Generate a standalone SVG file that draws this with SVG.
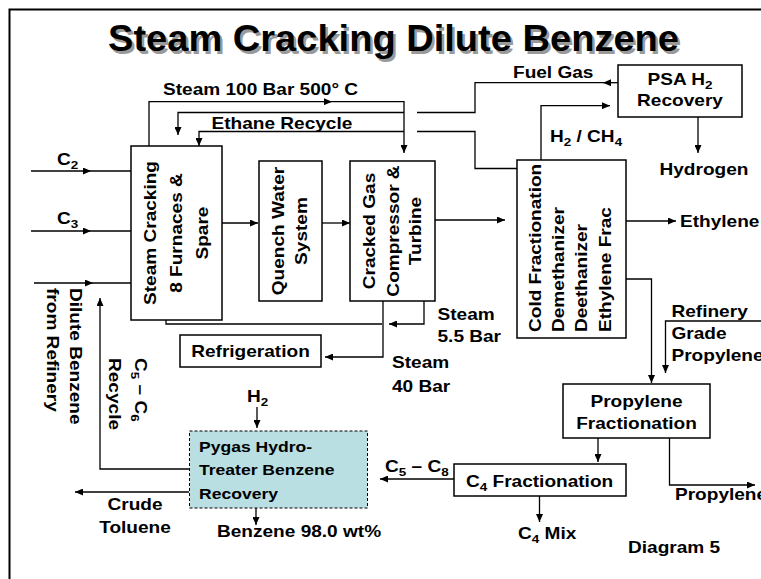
<svg xmlns="http://www.w3.org/2000/svg" width="761" height="579" viewBox="0 0 761 579">
<defs>
<marker id="a" viewBox="0 0 8 7" refX="8" refY="3.5" markerWidth="8" markerHeight="7" markerUnits="userSpaceOnUse" orient="auto"><path d="M0,0 L8,3.5 L0,7 z" fill="#000"/></marker>
<style>
.t{font-family:"Liberation Sans",Arial,sans-serif;font-weight:bold;font-size:16.3px;fill:#000}
.p{font-size:15px}
.m{text-anchor:middle}
.s{font-size:11.5px}
.box{fill:#fff;stroke:#000;stroke-width:1.5}
.ln{fill:none;stroke:#000;stroke-width:1.3}
.ar{marker-end:url(#a)}
.title{font-family:"Liberation Sans",Arial,sans-serif;font-weight:bold;font-size:36px}
</style>
</defs>
<rect width="761" height="579" fill="#fff"/>
<path d="M9.5,579 V9.5 H761" fill="none" stroke="#000" stroke-width="2"/>
<g id="title">
<text class="title" x="110.5" y="53.5" textLength="571" lengthAdjust="spacingAndGlyphs" fill="#9a9a9a">Steam Cracking Dilute Benzene</text>
<text class="title" x="108" y="51" textLength="571" lengthAdjust="spacingAndGlyphs" fill="#000">Steam Cracking Dilute Benzene</text>
</g>
<g id="connectors">
<path class="ln ar" d="M31,171 H91"/><path class="ln" d="M91,171 H131"/>
<path class="ln ar" d="M31,231 H91"/><path class="ln" d="M91,231 H131"/>
<path class="ln ar" d="M34,283 H93"/><path class="ln" d="M93,283 H131"/>
<path class="ln ar" d="M149,146 V101.7 H332"/><path class="ln ar" d="M332,101.7 H404 V153"/>
<path class="ln ar" d="M618,82.7 H603"/><path class="ln" d="M603,82.7 H475 V112.5 H417"/><path class="ln ar" d="M404,112.5 H178 V135"/>
<path class="ln" d="M517,168.5 H475 V131.5 H417"/><path class="ln ar" d="M404,131.5 H199 V146"/>
<path class="ln ar" d="M222,223 H258"/>
<path class="ln ar" d="M322,223 H350"/>
<path class="ln ar" d="M435,220 H505"/>
<path class="ln ar" d="M626,221 H676"/>
<path class="ln ar" d="M541,160 V105.7 H610"/>
<path class="ln ar" d="M698,117 V153"/>
<path class="ln" d="M166,320 V324 H382"/>
<path class="ln ar" d="M424,301 V324 H389"/>
<path class="ln ar" d="M383,301 V357 H325"/>
<path class="ln ar" d="M626,279 H651.5 V383"/>
<path class="ln ar" d="M761,321 H665.5 V373"/>
<path class="ln ar" d="M598,438 V462"/>
<path class="ln ar" d="M669.5,438 V485 H755"/>
<path class="ln ar" d="M454,479 H380"/>
<path class="ln ar" d="M539.5,496 V522"/>
<path class="ln ar" d="M257,407 V428"/>
<path class="ln ar" d="M189,469 H100 V298"/>
<path class="ln ar" d="M189,492 H75"/>
<path class="ln ar" d="M256,508 V525"/>
</g>
<g id="steam-cracking">
<rect class="box" x="131" y="146" width="91" height="174"/>
<text class="t m" transform="translate(155.5,233) rotate(-90) scale(1.17,1)">Steam Cracking</text>
<text class="t m" transform="translate(182,233) rotate(-90) scale(1.17,1)">8 Furnaces &amp;</text>
<text class="t m" transform="translate(207.5,233) rotate(-90) scale(1.17,1)">Spare</text>
</g>
<g id="quench">
<rect class="box" x="259" y="161" width="63" height="140"/>
<text class="t m" transform="translate(283.5,231) rotate(-90) scale(1.17,1)">Quench Water</text>
<text class="t m" transform="translate(307,231) rotate(-90) scale(1.17,1)">System</text>
</g>
<g id="compressor">
<rect class="box" x="350" y="161" width="85" height="140"/>
<text class="t m" transform="translate(375,231) rotate(-90) scale(1.17,1)">Cracked Gas</text>
<text class="t m" transform="translate(398.5,231) rotate(-90) scale(1.17,1)">Compressor &amp;</text>
<text class="t m" transform="translate(420.5,231) rotate(-90) scale(1.17,1)">Turbine</text>
</g>
<g id="cold-frac">
<rect class="box" x="517" y="160" width="109" height="178"/>
<text class="t" transform="translate(540.5,332) rotate(-90) scale(1.17,1)">Cold Fractionation</text>
<text class="t" transform="translate(564,332) rotate(-90) scale(1.17,1)">Demethanizer</text>
<text class="t" transform="translate(587,332) rotate(-90) scale(1.17,1)">Deethanizer</text>
<text class="t" transform="translate(610.5,332) rotate(-90) scale(1.17,1)">Ethylene Frac</text>
</g>
<g id="psa">
<rect class="box" x="618" y="65" width="124" height="52"/>
<text class="t m" transform="translate(680,85) scale(1.17,1)">PSA H<tspan class="s" dy="4">2</tspan></text>
<text class="t m" transform="translate(680,105.5) scale(1.17,1)">Recovery</text>
</g>
<g id="refrigeration">
<rect class="box" x="180" y="335" width="141" height="32"/>
<text class="t m" transform="translate(250.5,356.5) scale(1.17,1)">Refrigeration</text>
</g>
<g id="propylene-frac">
<rect class="box" x="563" y="384" width="147" height="54"/>
<text class="t m" transform="translate(636.5,406.5) scale(1.17,1)">Propylene</text>
<text class="t m" transform="translate(636.5,429) scale(1.17,1)">Fractionation</text>
</g>
<g id="c4-frac">
<rect class="box" x="454" y="464" width="172" height="32"/>
<text class="t" transform="translate(466,486.5) scale(1.17,1)">C<tspan class="s" dy="4">4</tspan><tspan dy="-4"> Fractionation</tspan></text>
</g>
<g id="pygas">
<rect x="189.5" y="431" width="178" height="77" fill="#b9dfe3" stroke="#000" stroke-width="1" stroke-dasharray="3,2"/>
<text class="t p" transform="translate(199,451.5) scale(1.17,1)">Pygas Hydro-</text>
<text class="t p" transform="translate(199,475) scale(1.17,1)">Treater Benzene</text>
<text class="t p" transform="translate(199,498.5) scale(1.17,1)">Recovery</text>
</g>
<g id="labels">
<text class="t" transform="translate(57,165) scale(1.17,1)">C<tspan class="s" dy="4">2</tspan></text>
<text class="t" transform="translate(57,224) scale(1.17,1)">C<tspan class="s" dy="4">3</tspan></text>
<text class="t" transform="translate(163,95) scale(1.17,1)">Steam 100 Bar 500° C</text>
<text class="t" transform="translate(211.5,129) scale(1.17,1)">Ethane Recycle</text>
<text class="t" transform="translate(513,78) scale(1.17,1)">Fuel Gas</text>
<text class="t" transform="translate(550,141.5) scale(1.17,1)">H<tspan class="s" dy="4">2</tspan><tspan dy="-4"> / CH</tspan><tspan class="s" dy="4">4</tspan></text>
<text class="t" transform="translate(659.5,175) scale(1.17,1)">Hydrogen</text>
<text class="t" transform="translate(680,227) scale(1.17,1)">Ethylene</text>
<text class="t" transform="translate(671.5,317) scale(1.17,1)">Refinery</text>
<text class="t" transform="translate(671.5,339) scale(1.17,1)">Grade</text>
<text class="t" transform="translate(671.5,361) scale(1.17,1)">Propylene</text>
<text class="t" transform="translate(437.5,320) scale(1.17,1)">Steam</text>
<text class="t" transform="translate(437.5,342) scale(1.17,1)">5.5 Bar</text>
<text class="t" transform="translate(392,368) scale(1.17,1)">Steam</text>
<text class="t" transform="translate(392,391.5) scale(1.17,1)">40 Bar</text>
<text class="t" transform="translate(247,401.5) scale(1.17,1)">H<tspan class="s" dy="4">2</tspan></text>
<text class="t" transform="translate(385,471.5) scale(1.17,1)">C<tspan class="s" dy="4">5</tspan><tspan dy="-4"> – C</tspan><tspan class="s" dy="4">8</tspan></text>
<text class="t" transform="translate(518,539) scale(1.17,1)">C<tspan class="s" dy="4">4</tspan><tspan dy="-4"> Mix</tspan></text>
<text class="t" transform="translate(675,500) scale(1.17,1)">Propylene</text>
<text class="t" transform="translate(628,553) scale(1.17,1)">Diagram 5</text>
<text class="t m" transform="translate(135,510) scale(1.17,1)">Crude</text>
<text class="t m" transform="translate(135,532.5) scale(1.17,1)">Toluene</text>
<text class="t" transform="translate(217,537) scale(1.17,1)">Benzene 98.0 wt%</text>
<text class="t" transform="translate(70,288) rotate(90) scale(1.17,1)">Dilute Benzene</text>
<text class="t" transform="translate(46.5,288) rotate(90) scale(1.17,1)">from Refinery</text>
<text class="t" transform="translate(135,358) rotate(90) scale(1.17,1)">C<tspan class="s" dy="4">5</tspan><tspan dy="-4"> – C</tspan><tspan class="s" dy="4">6</tspan></text>
<text class="t" transform="translate(108.5,358) rotate(90) scale(1.17,1)">Recycle</text>
</g>
</svg>
